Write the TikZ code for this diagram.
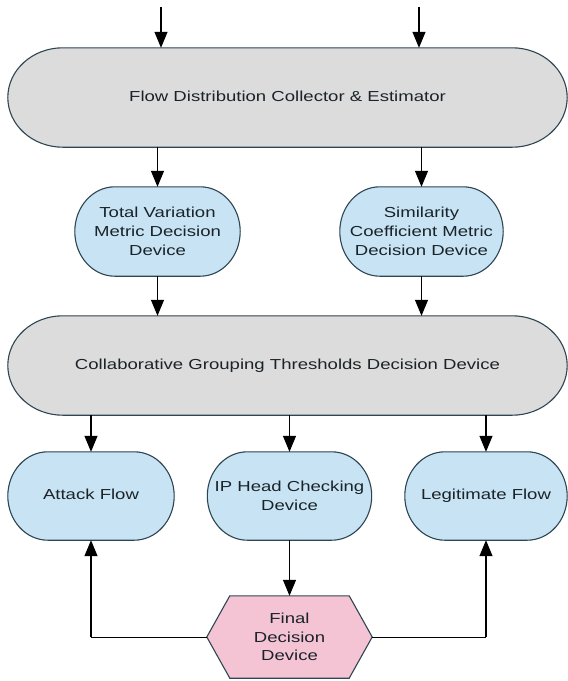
\documentclass[tikz,border=0pt]{standalone}
\usepackage{fontspec}
\setmainfont{Liberation Sans}[FakeStretch=1.28]
\usetikzlibrary{arrows.meta,backgrounds,calc}
\definecolor{grayfill}{HTML}{DCDCDC}
\definecolor{bluefill}{HTML}{C8E4F4}
\definecolor{pinkfill}{HTML}{F5C4D4}
\definecolor{edgecol}{HTML}{2E4552}
\definecolor{txtcol}{HTML}{1A2328}
\newcommand\pillshape[3]{%
  \path[draw=edgecol, line width=1.1pt, fill=#3]
   let \p1=(#1.north west), \p2=(#1.south east), \n1={(\y1-\y2)/2} in
   (\x1+#2pt,\y1) -- (\x2-#2pt,\y1)
   arc[start angle=90,end angle=-90,x radius=#2pt,y radius=\n1]
   -- (\x1+#2pt,\y2)
   arc[start angle=270,end angle=90,x radius=#2pt,y radius=\n1] -- cycle;}
\newcommand\hexshape[3]{%
  \path[draw=edgecol, line width=1.1pt, fill=#3]
   let \p1=(#1.north west), \p2=(#1.south east) in
   (#1.west) -- (\x1+#2pt,\y1) -- (\x2-#2pt,\y1) -- (#1.east)
   -- (\x2-#2pt,\y2) -- (\x1+#2pt,\y2) -- cycle;}
\tikzset{
  box/.style={draw=none, inner sep=0pt, align=center, text=txtcol,
    font=\fontsize{14.5}{18.7}\selectfont},
  oneline/.style={text height=10.4pt, text depth=3pt},
  conn/.style={draw=black, line width=1.2pt, -{Triangle[length=16pt,width=13pt]}},
  plainconn/.style={draw=black, line width=1pt}
}
\begin{document}
\begin{tikzpicture}[x=1pt,y=1pt]
\useasboundingbox (0,0) rectangle (568,-681);
% nodes
\node[box, oneline, minimum width=559pt, minimum height=99pt] (top) at (287.5,-97.5) {Flow Distribution Collector \& Estimator};
\node[box, minimum width=165pt, minimum height=89pt] (tvm) at (157.5,-231.5) {Total Variation\\Metric Decision\\Device};
\node[box, minimum width=163pt, minimum height=89pt] (scm) at (421.5,-231.5) {Similarity\\Coefficient Metric\\Decision Device};
\node[box, oneline, minimum width=559pt, minimum height=99pt] (collab) at (287.5,-365.5) {Collaborative Grouping Thresholds Decision Device};
\node[box, oneline, minimum width=166pt, minimum height=88pt] (attack) at (91,-496) {Attack Flow};
\node[box, minimum width=164pt, minimum height=88pt] (ip) at (289.5,-496) {IP Head Checking\\Device};
\node[box, oneline, minimum width=162pt, minimum height=88pt] (legit) at (486,-496) {Legitimate Flow};
\node[box, minimum width=165pt, minimum height=82pt] (fd) at (289.5,-637) {Final\\Decision\\Device};
\coordinate (in1) at (161,-7);
\coordinate (in2) at (419,-7);
% shapes
\begin{scope}[on background layer]
\fill[white] (0,0) rectangle (568,-681);
\pillshape{top}{55}{grayfill}
\pillshape{collab}{55}{grayfill}
\pillshape{tvm}{40}{bluefill}
\pillshape{scm}{40}{bluefill}
\pillshape{attack}{40}{bluefill}
\pillshape{ip}{40}{bluefill}
\pillshape{legit}{40}{bluefill}
\hexshape{fd}{23}{pinkfill}
\end{scope}
% connectors
\draw[conn] (in1) -- (in1 |- top.north);
\draw[conn] (in2) -- (in2 |- top.north);
\draw[conn] (top.south -| tvm.north) -- (tvm.north);
\draw[conn] (top.south -| scm.north) -- (scm.north);
\draw[conn] (tvm.south) -- (tvm.south |- collab.north);
\draw[conn] (scm.south) -- (scm.south |- collab.north);
\draw[conn] (collab.south -| attack.north) -- (attack.north);
\draw[conn] (collab.south -| ip.north) -- (ip.north);
\draw[conn] (collab.south -| legit.north) -- (legit.north);
\draw[conn] (ip.south) -- (fd.north);
\draw[plainconn] (fd.west) -- (fd.west -| attack.south);
\draw[conn] (fd.west -| attack.south) -- (attack.south);
\draw[plainconn] (fd.east) -- (fd.east -| legit.south);
\draw[conn] (fd.east -| legit.south) -- (legit.south);
\end{tikzpicture}
\end{document}
